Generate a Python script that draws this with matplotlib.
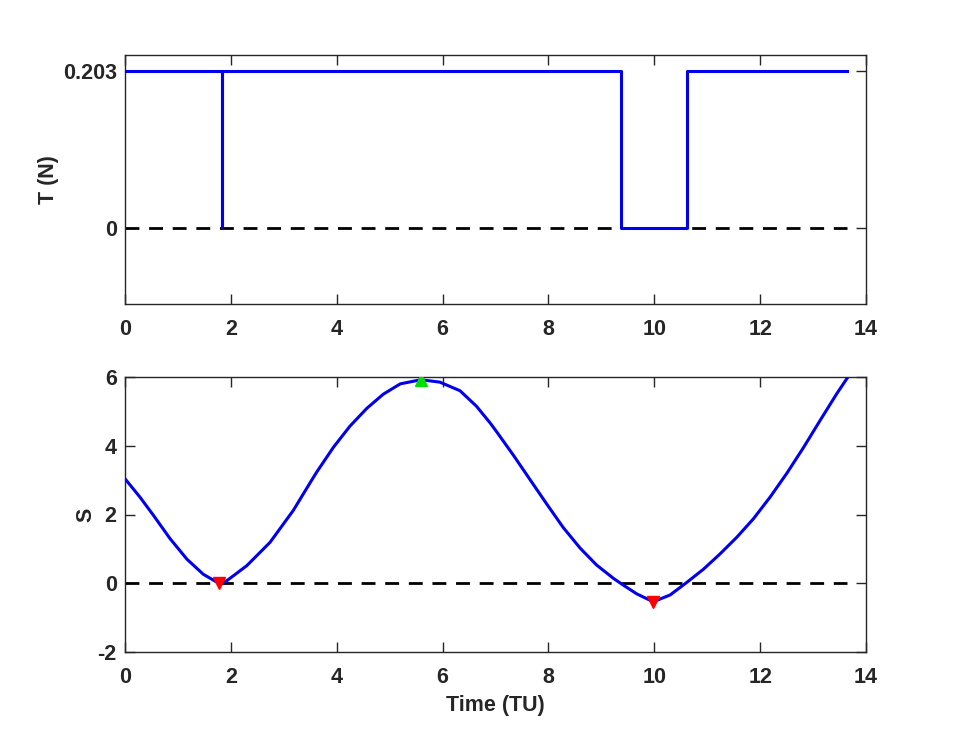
import matplotlib
matplotlib.use("Agg")
import matplotlib.pyplot as plt

plt.rcParams['font.family'] = ['Liberation Sans', 'DejaVu Sans']
plt.rcParams['font.weight'] = 'bold'
plt.rcParams['axes.unicode_minus'] = False

# Thrust profile (piecewise constant)
T_time = [0.0, 1.83, 1.83, 1.83, 9.37, 9.37, 10.62, 10.62, 13.65]
T_val = [0.203, 0.203, 0.0, 0.203, 0.203, 0.0, 0.0, 0.203, 0.203]

# Switching function S(t)
S_time = [0.00, 0.28, 0.54, 0.85, 1.17, 1.48, 1.77, 1.92, 2.30, 2.74, 3.18, 3.31,
          3.50, 3.62, 3.94, 4.25, 4.57, 4.88, 5.20, 5.59, 5.95, 6.33, 6.64, 6.90,
          7.02, 7.34, 7.65, 7.97, 8.28, 8.60, 8.91, 9.23, 9.41, 9.67, 9.98, 10.30,
          10.61, 10.93, 11.24, 11.56, 11.87, 12.19, 12.50, 12.82, 13.13, 13.45, 13.65]
S_val = [3.04, 2.51, 1.97, 1.30, 0.70, 0.26, 0.00, 0.07, 0.51, 1.19, 2.12, 2.45,
         2.93, 3.23, 3.96, 4.57, 5.09, 5.50, 5.80, 5.92, 5.85, 5.60, 5.15, 4.66,
         4.41, 3.72, 3.02, 2.30, 1.62, 1.02, 0.53, 0.14, -0.05, -0.31, -0.54, -0.34,
         0.02, 0.41, 0.85, 1.34, 1.87, 2.51, 3.19, 3.95, 4.73, 5.52, 5.98]

# Extrema markers
min_t = [1.77, 9.98]
min_S = [0.00, -0.54]
max_t = [5.59]
max_S = [5.92]

blue = '#0000EE'
ink = '#262626'
W, H = 958, 734
fig = plt.figure(figsize=(W / 100, H / 100), dpi=100)
ax1 = fig.add_axes([125 / W, 1 - 304 / H, (866 - 125) / W, (304 - 55) / H])
ax2 = fig.add_axes([125 / W, 1 - 652 / H, (866 - 125) / W, (652 - 377) / H])

ax1.plot(T_time, T_val, color=blue, lw=2.2, zorder=3)
ax1.plot([T_time[0], T_time[-1]], [0, 0], 'k--', lw=2.0, dashes=(5, 3.5), zorder=2)
ax1.set_xlim(0, 14)
ax1.set_ylim(-0.0983, 0.2233)
ax1.set_yticks([0, 0.203])
ax1.set_yticklabels(['0', '0.203'])
ax1.set_xticks(range(0, 15, 2))
ax1.set_ylabel('T (N)', fontsize=15.5, fontweight='bold', labelpad=3)

ax2.plot(S_time, S_val, color=blue, lw=2.2, zorder=3, solid_joinstyle='round')
ax2.plot([S_time[0], S_time[-1]], [0, 0], 'k--', lw=2.0, dashes=(5, 3.5), zorder=2)
ax2.plot(min_t, min_S, 'v', color='#FF0000', ms=8, zorder=4)
ax2.plot(max_t, max_S, '^', color='#00DD00', ms=8, zorder=4)
ax2.set_xlim(0, 14)
ax2.set_ylim(-2, 6)
ax2.set_yticks([-2, 0, 2, 4, 6])
ax2.set_xticks(range(0, 15, 2))
ax2.set_ylabel('S', fontsize=15.5, fontweight='bold', labelpad=1)
ax2.set_xlabel('Time (TU)', fontsize=15.5, fontweight='bold', labelpad=5)

for ax in (ax1, ax2):
    ax.tick_params(direction='in', top=True, right=True, length=7, width=1.0,
                   labelsize=15.5, colors=ink)
    ax.tick_params(axis='x', pad=11)
    ax.tick_params(axis='y', pad=6)
    for lab in ax.get_xticklabels() + ax.get_yticklabels():
        lab.set_fontweight('bold')
    for sp in ax.spines.values():
        sp.set_linewidth(1.0)
        sp.set_color(ink)
    ax.yaxis.label.set_color(ink)
    ax.xaxis.label.set_color(ink)

fig.savefig('out.png', dpi=100)
